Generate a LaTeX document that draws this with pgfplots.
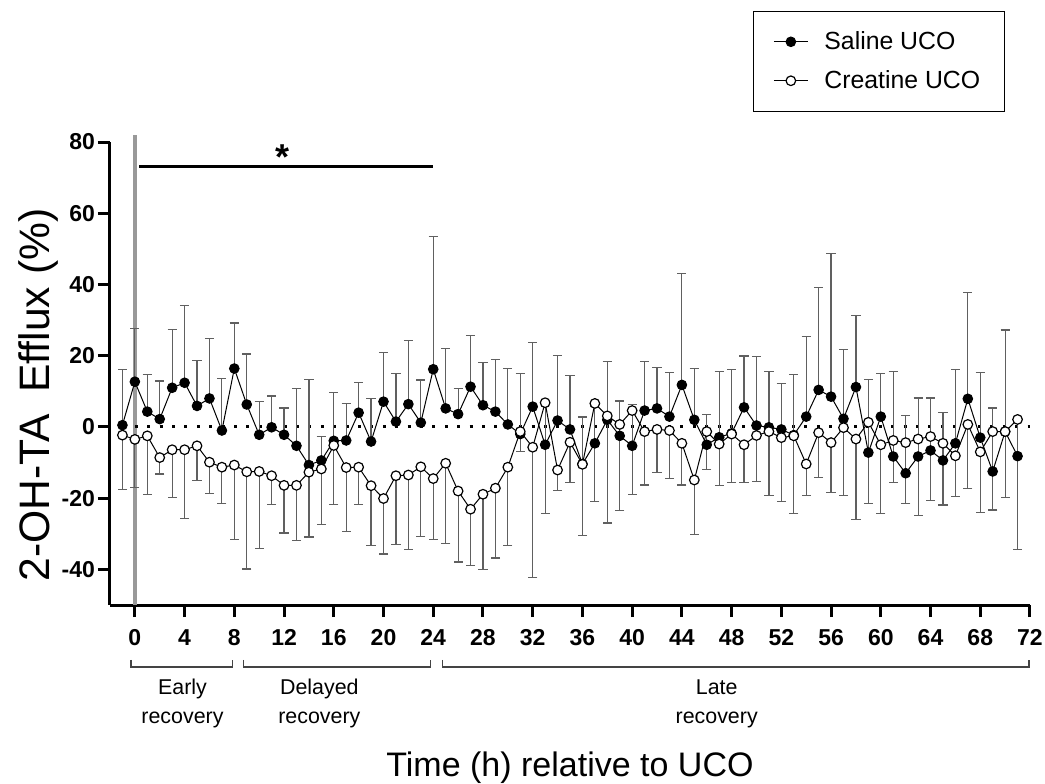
\documentclass[border=0pt]{standalone}
\usepackage{fontspec}
\setmainfont{Liberation Sans}
\usepackage{pgfplots}
\usepackage{pgfplotstable}
\pgfplotsset{compat=1.18}
\definecolor{errgray}{HTML}{606060}
\definecolor{ucogray}{HTML}{999999}
\definecolor{brackgray}{HTML}{444444}

% h = hour, s/se = saline mean and upper error, c/ce = creatine mean and lower error
\pgfplotstableread{
h   s      se     c      ce
-1  0.5    15.7   -2.3   15.3
0   12.7   15.0   -3.5   13.5
1   4.3    10.4   -2.5   16.4
2   2.2    10.7   -8.6   4.6
3   11.0   16.4   -6.4   13.4
4   12.4   21.6   -6.4   19.3
5   5.9    12.7   -5.3   9.7
6   8.0    16.9   -9.9   8.8
7   -1.0   14.7   -11.3  10.1
8   16.4   12.8   -10.7  20.9
9   6.3    14.2   -12.6  27.3
10  -2.2   9.4    -12.5  21.7
11  -0.1   8.8    -13.7  8.1
12  -2.2   7.5    -16.4  13.4
13  -5.3   16.0   -16.4  15.4
14  -10.7  24.1   -12.7  18.2
15  -9.4   6.7    -11.8  15.6
16  -3.9   13.6   -5.2   16.6
17  -3.8   10.3   -11.4  18.0
18  4.0    8.5    -11.3  10.4
19  -4.1   12.1   -16.5  16.7
20  7.1    13.7   -20.1  15.6
21  1.5    13.6   -13.7  19.3
22  6.4    17.9   -13.5  21.0
23  1.2    12.0   -11.2  19.5
24  16.2   37.3   -14.5  17.2
25  5.2    16.9   -10.2  22.6
26  3.6    7.1    -18.0  19.9
27  11.3   14.3   -23.1  15.8
28  6.1    12.1   -18.9  21.2
29  4.3    14.6   -17.2  19.6
30  0.7    15.6   -11.3  22.0
31  -2.0   17.0   -1.3   5.6
32  5.7    18.0   -5.7   36.6
33  -5.0   11.5   6.8    31.2
34  1.8    18.3   -12.1  5.8
35  -0.7   15.2   -4.3   11.2
36  -10.4  13.2   -10.5  19.9
37  -4.6   10.5   6.6    27.5
38  2.0    16.4   3.1    30.1
39  -2.5   9.8    0.7    24.2
40  -5.3   11.5   4.6    23.6
41  4.6    13.8   -1.3   15.0
42  5.2    11.4   -0.7   12.1
43  2.9    12.3   -1.0   13.5
44  11.8   31.2   -4.6   11.7
45  2.0    14.5   -14.9  15.2
46  -5.0   8.4    -1.3   10.6
47  -2.9   18.4   -4.8   11.7
48  -1.8   17.9   -2.0   13.6
49  5.5    14.4   -5.0   10.6
50  0.4    19.3   -2.4   13.0
51  -0.1   15.6   -1.3   18.0
52  -0.7   12.9   -3.0   18.0
53  -2.3   17.0   -2.5   21.8
54  2.9    22.6   -10.4  8.9
55  10.4   28.7   -1.6   12.6
56  8.5    40.2   -4.4   13.9
57  2.3    19.4   -0.2   19.1
58  11.2   20.1   -3.4   22.7
59  -7.2   20.6   1.3    22.7
60  2.9    12.1   -5.0   19.3
61  -8.3   23.8   -3.8   11.8
62  -13.0  16.1   -4.4   17.2
63  -8.3   16.4   -3.4   21.5
64  -6.6   14.7   -2.7   17.9
65  -9.4   13.5   -4.6   17.3
66  -4.6   20.7   -8.1   11.4
67  7.9    29.8   0.7    17.9
68  -3.0   18.2   -7.0   17.0
69  -12.5  17.8   -1.3   22.0
70  -1.3   28.5   -1.3   18.5
71  -8.2   10.0   2.1    36.6
}\efflux

\begin{document}
\begin{tikzpicture}
\useasboundingbox (-55pt,-89pt) rectangle (467.5pt,302.5pt);
\begin{axis}[
  at={(0,0)}, anchor=south west,
  scale only axis, width=460pt, height=231.5pt,
  xmin=-2, xmax=72, ymin=-50, ymax=80,
  axis x line*=bottom, axis y line*=left,
  axis line style={line width=1.5pt, black},
  xtick={0,4,...,72}, ytick={-40,-20,...,80},
  tick align=outside, major tick length=6pt,
  tick style={line width=1.5pt, black},
  ticklabel style={font=\fontsize{11.5}{13}\selectfont\bfseries},
  /pgf/number format/assume math mode=true,
  xticklabel style={yshift=-2.5pt, text height=8.3pt, text depth=0pt},
  yticklabel style={xshift=2pt},
  clip=false,
  legend cell align=left,
  legend style={at={(0.6986,1.2836)}, anchor=north west,
    draw=black, line width=0.6pt,
    font=\fontsize{12.4}{14}\selectfont,
    inner xsep=10pt, inner ysep=8pt, row sep=5pt,
    /tikz/every odd column/.append style={column sep=6pt}},
]
% UCO marker and zero line
\draw[ucogray, line width=2pt] (axis cs:0,-50) -- (axis cs:0,82);
\addplot[forget plot, black, line width=1.5pt, dash pattern=on 1.5pt off 4.7pt]
  coordinates {(-1,0) (72,0)};

% error bars: saline upward, creatine downward
\addplot[forget plot, only marks, mark=none,
  error bars/.cd, y dir=plus, y explicit, error mark=-,
  error bar style={line width=0.6pt, errgray},
  error mark options={rotate=90, line width=0.6pt, errgray, mark size=2.3pt}]
  table[x=h, y=s, y error=se] {\efflux};
\addplot[forget plot, only marks, mark=none,
  error bars/.cd, y dir=minus, y explicit, error mark=-,
  error bar style={line width=0.6pt, errgray},
  error mark options={rotate=90, line width=0.6pt, errgray, mark size=2.3pt}]
  table[x=h, y=c, y error=ce] {\efflux};

\addplot[black, line width=0.5pt, mark=*, mark size=2.4pt,
  mark options={fill=black, line width=0.5pt}]
  table[x=h, y=s] {\efflux};
\addlegendentry{Saline UCO}
\addplot[black, line width=0.5pt, mark=*, mark size=2.4pt,
  mark options={fill=white, draw=black, line width=0.6pt}]
  table[x=h, y=c] {\efflux};
\addlegendentry{Creatine UCO}

% significance bar
\draw[line width=1.5pt] (axis cs:0.35,73) -- (axis cs:24,73);
\node[anchor=north, inner sep=0pt, font=\fontsize{18}{20}\selectfont\bfseries]
  at (axis cs:11.84,79.3) {*};

% recovery phase brackets
\draw[brackgray, line width=0.9pt] (axis cs:-0.32,-65.4) -- (axis cs:-0.32,-67.4)
  -- (axis cs:7.86,-67.4) -- (axis cs:7.86,-65.4);
\draw[brackgray, line width=0.9pt] (axis cs:8.74,-65.4) -- (axis cs:8.74,-67.4)
  -- (axis cs:23.78,-67.4) -- (axis cs:23.78,-65.4);
\draw[brackgray, line width=0.9pt] (axis cs:24.74,-65.4) -- (axis cs:24.74,-67.4)
  -- (axis cs:71.9,-67.4) -- (axis cs:71.9,-65.4);
\node[anchor=base, font=\fontsize{10.7}{13}\selectfont] at (axis cs:3.83,-75.2) {Early};
\node[anchor=base, font=\fontsize{10.7}{13}\selectfont] at (axis cs:3.83,-83.2) {recovery};
\node[anchor=base, font=\fontsize{10.7}{13}\selectfont] at (axis cs:14.84,-75.2) {Delayed};
\node[anchor=base, font=\fontsize{10.7}{13}\selectfont] at (axis cs:14.84,-83.2) {recovery};
\node[anchor=base, font=\fontsize{10.7}{13}\selectfont] at (axis cs:46.8,-75.2) {Late};
\node[anchor=base, font=\fontsize{10.7}{13}\selectfont] at (axis cs:46.8,-83.2) {recovery};

% axis titles
\node[anchor=base, font=\fontsize{17}{20}\selectfont] at (axis cs:35,-98.2)
  {Time (h) relative to UCO};
\node[rotate=90, anchor=base, font=\fontsize{21.3}{24}\selectfont] at (axis cs:-6.89,9.0)
  {2-OH-TA\hspace{0.5em}Efflux (\%)};
\end{axis}
\end{tikzpicture}
\end{document}
